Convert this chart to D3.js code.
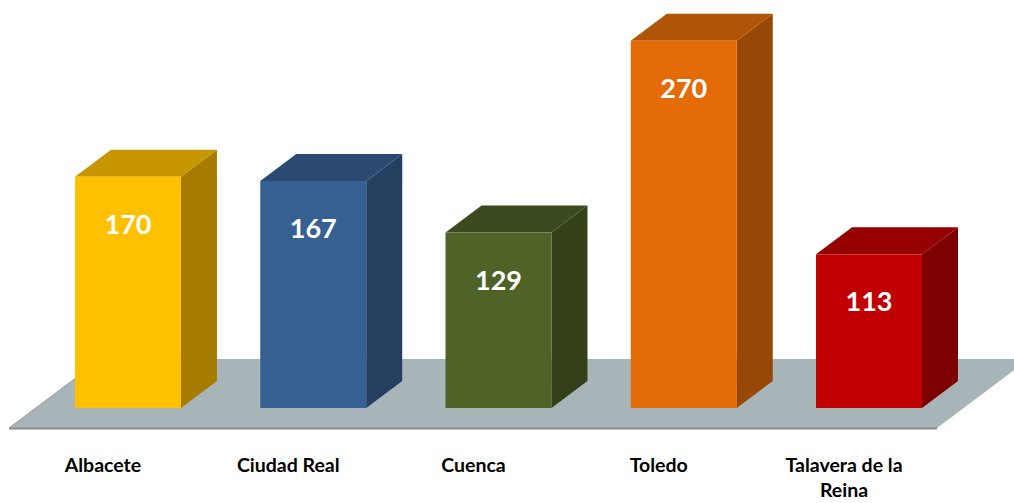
<!DOCTYPE html>
<html>
<head>
<meta charset="utf-8">
<script src="https://cdn.jsdelivr.net/npm/d3@7"></script>
<style>
  body { margin: 0; background: #fff; }
  text { font-family: Lato, "Open Sans", sans-serif; font-weight: bold; }
</style>
</head>
<body>
<script>
// data
var cities = ["Albacete", "Ciudad Real", "Cuenca", "Toledo", "Talavera de la Reina"];
var labelLines = [["Albacete"], ["Ciudad Real"], ["Cuenca"], ["Toledo"], ["Talavera de la", "Reina"]];
var values = [170, 167, 129, 270, 113];
var fronts = ["#FFC000", "#376092", "#4F6228", "#E36C09", "#C00000"];
var tops   = ["#C79600", "#2B4A72", "#3C4A1F", "#B05407", "#960000"];
var sides  = ["#A67C00", "#243F60", "#334019", "#974806", "#7F0000"];

var width = 1014, height = 503;
var depthX = 36, depthY = 27; // 3d offset

var svg = d3.select("body").append("svg")
    .attr("width", width)
    .attr("height", height);

var x = d3.scaleBand().domain(cities).range([75, 922]).paddingInner(0.428).paddingOuter(0);
var y = d3.scaleLinear().domain([0, 300]).range([408, 0]);

// floor
var floorFront = 428, floorBack = 359;
var fdx = (floorFront - floorBack) * depthX / depthY;
svg.append("path")
    .attr("d", "M9," + floorFront + " L937," + floorFront + " L" + (937 + fdx) + "," + floorBack +
               " L" + (9 + fdx) + "," + floorBack + " Z")
    .attr("fill", "#A7B4B8");
svg.append("line")
    .attr("x1", 9).attr("x2", 937)
    .attr("y1", floorFront + 0.5).attr("y2", floorFront + 0.5)
    .attr("stroke", "#8C8C8C").attr("stroke-width", 2);
svg.append("line")
    .attr("x1", 9).attr("y1", floorFront)
    .attr("x2", 9 + fdx).attr("y2", floorBack)
    .attr("stroke", "#9A9A9A").attr("stroke-width", 1);

var bars = svg.selectAll("g.bar")
    .data(cities)
    .enter().append("g")
    .attr("class", "bar");

var w = x.bandwidth();

// side face
bars.append("path")
    .attr("d", function(d, i) {
      var x1 = x(d) + w, yt = y(values[i]), yb = y(0);
      return "M" + x1 + "," + yt + " L" + (x1 + depthX) + "," + (yt - depthY) +
             " L" + (x1 + depthX) + "," + (yb - depthY) + " L" + x1 + "," + yb + " Z";
    })
    .attr("fill", function(d, i) { return sides[i]; });

// top face
bars.append("path")
    .attr("d", function(d, i) {
      var x0 = x(d), yt = y(values[i]);
      return "M" + x0 + "," + yt + " L" + (x0 + depthX) + "," + (yt - depthY) +
             " L" + (x0 + w + depthX) + "," + (yt - depthY) + " L" + (x0 + w) + "," + yt + " Z";
    })
    .attr("fill", function(d, i) { return tops[i]; });

// front face
bars.append("rect")
    .attr("x", function(d) { return x(d); })
    .attr("y", function(d, i) { return y(values[i]); })
    .attr("width", w)
    .attr("height", function(d, i) { return y(0) - y(values[i]); })
    .attr("fill", function(d, i) { return fronts[i]; });

// value labels
bars.append("text")
    .attr("x", function(d) { return x(d) + w / 2; })
    .attr("y", function(d, i) { return y(values[i]) + 57; })
    .attr("text-anchor", "middle")
    .attr("fill", "#fff")
    .attr("font-size", "27px")
    .text(function(d, i) { return values[i]; });

// category labels
var cat = svg.selectAll("text.cat")
    .data(cities)
    .enter().append("text")
    .attr("class", "cat")
    .attr("text-anchor", "middle")
    .attr("font-size", "19.5px")
    .attr("fill", "#000");

cat.selectAll("tspan")
    .data(function(d, i) { return labelLines[i].map(function(t) { return {t: t, c: d}; }); })
    .enter().append("tspan")
    .attr("x", function(d) { return x(d.c) + w / 2 - 25; })
    .attr("y", function(d, j) { return 472 + j * 25; })
    .text(function(d) { return d.t; });
</script>
</body>
</html>
